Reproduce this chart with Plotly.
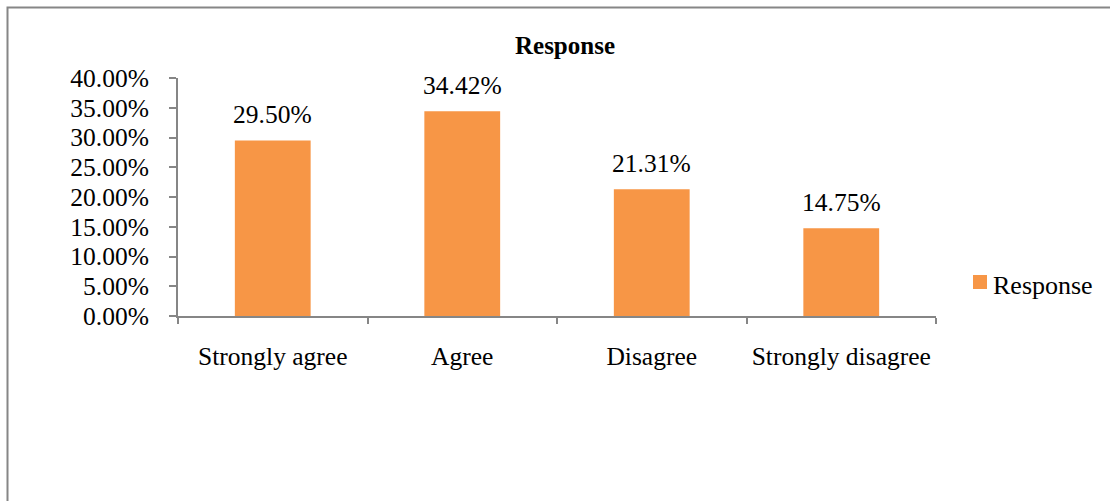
import plotly.graph_objects as go

# Survey response shares (percent)
categories = ["Strongly agree", "Agree", "Disagree", "Strongly disagree"]
response_pct = [29.50, 34.42, 21.31, 14.75]
series_name = "Response"
y_ticks = [0, 5, 10, 15, 20, 25, 30, 35, 40]
y_tick_labels = [f"{v:.2f}%" for v in y_ticks]

W, H = 1110, 501
ML, MR, MT, MB = 178, 174, 78, 185
pw = W - ML - MR
ph = H - MT - MB

BAR_COLOR = "#F79646"
AXIS_COLOR = "#868686"
FONT = "Liberation Serif, Times New Roman, serif"
FS = 25.5


def px_to_paper_x(px):
    return (px - ML) / pw


def px_to_paper_y(py):
    return (H - MB - py) / ph


fig = go.Figure()
fig.add_trace(go.Bar(
    x=categories,
    y=response_pct,
    name=series_name,
    marker=dict(color=BAR_COLOR, line=dict(width=0)),
    width=0.4,
    hoverinfo="skip",
    showlegend=False,
))

# Value labels above each bar
for cat, val in zip(categories, response_pct):
    fig.add_annotation(
        x=cat, y=val, text=f"{val:.2f}%",
        showarrow=False, yanchor="bottom", yshift=9,
        font=dict(family=FONT, size=FS, color="#000000"),
    )

# Legend entry: colour swatch and series name
fig.add_shape(
    type="rect", xref="paper", yref="paper",
    x0=px_to_paper_x(973), x1=px_to_paper_x(987),
    y0=px_to_paper_y(289), y1=px_to_paper_y(275),
    line=dict(width=0), fillcolor=BAR_COLOR,
)
fig.add_annotation(
    xref="paper", yref="paper",
    x=px_to_paper_x(991), y=px_to_paper_y(285),
    xanchor="left", yanchor="middle", showarrow=False,
    text=series_name,
    font=dict(family=FONT, size=26, color="#000000"),
)

# Outer chart frame
fig.add_shape(
    type="rect", xref="paper", yref="paper",
    x0=px_to_paper_x(7.5), x1=px_to_paper_x(W + 20),
    y0=px_to_paper_y(H + 20), y1=px_to_paper_y(7.5),
    line=dict(color=AXIS_COLOR, width=2), fillcolor="rgba(0,0,0,0)",
    layer="below",
)

fig.update_layout(
    width=W, height=H,
    margin=dict(l=ML, r=MR, t=MT, b=MB, pad=0),
    paper_bgcolor="white", plot_bgcolor="white",
    font=dict(family=FONT, size=FS, color="#000000"),
    title=dict(
        text=f"<b>{series_name}</b>", x=565 / W, xanchor="center", xref="container",
        y=1 - 45 / H, yanchor="middle", yref="container",
        font=dict(family=FONT, size=25, color="#000000"),
    ),
    showlegend=False,
    bargap=0.6,
    xaxis=dict(
        type="category",
        showline=True, linecolor=AXIS_COLOR, linewidth=2,
        ticks="outside", tickson="boundaries", ticklen=6,
        tickcolor=AXIS_COLOR, tickwidth=2,
        showgrid=False, zeroline=False,
        ticklabelstandoff=16,
        tickfont=dict(family=FONT, size=FS, color="#000000"),
    ),
    yaxis=dict(
        range=[0, 40],
        tickvals=y_ticks, ticktext=y_tick_labels,
        showline=True, linecolor=AXIS_COLOR, linewidth=2,
        ticks="outside", ticklen=7, tickcolor=AXIS_COLOR, tickwidth=2,
        showgrid=False, zeroline=False,
        ticklabelstandoff=15,
        tickfont=dict(family=FONT, size=FS, color="#000000"),
    ),
)

fig.write_html("out.html")
